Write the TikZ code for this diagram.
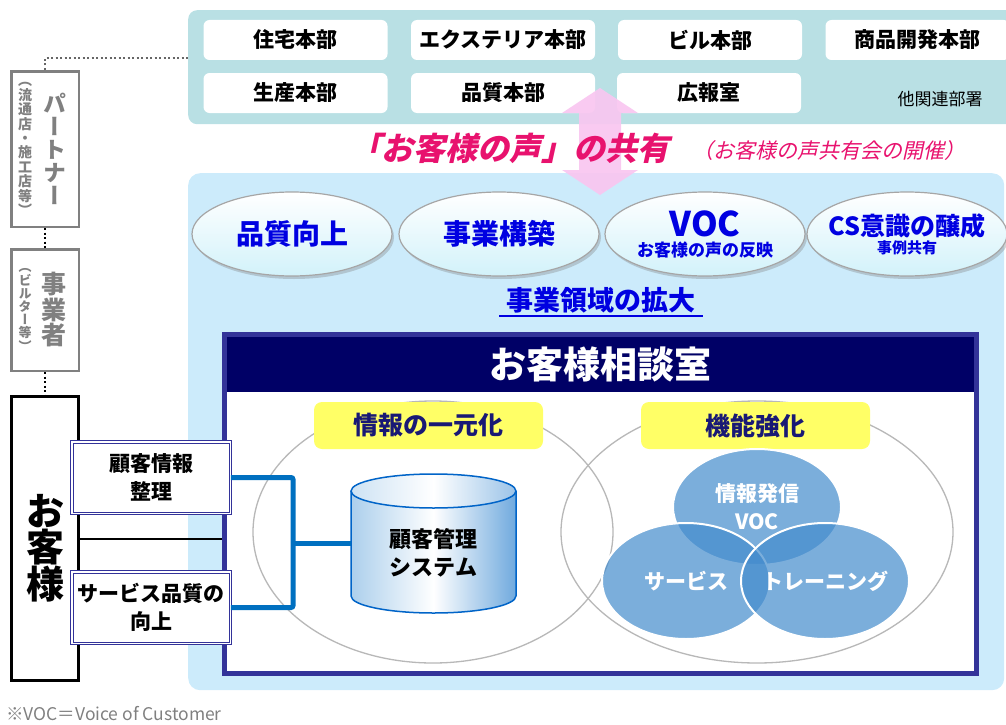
\documentclass[tikz,border=0pt]{standalone}
\usepackage{fontspec}
\usepackage{graphicx}
\setmainfont{Noto Sans CJK JP}
\newfontfamily\tatefont[RawFeature=+vert]{Noto Sans CJK JP}
\newfontfamily\shatai[FakeSlant=0.22]{Noto Sans CJK JP}
\usetikzlibrary{shapes.geometric,shadows}
\definecolor{honshairo}{RGB}{185,224,228}
\definecolor{mizuiro}{RGB}{204,235,251}
\definecolor{usumizu}{RGB}{210,242,250}
\definecolor{momo}{RGB}{249,198,240}
\definecolor{koe}{RGB}{232,18,110}
\definecolor{ao}{RGB}{0,0,225}
\definecolor{kon}{RGB}{0,0,102}
\definecolor{waku}{RGB}{51,51,153}
\definecolor{kiiro}{RGB}{255,255,102}
\definecolor{senao}{RGB}{0,112,192}
\definecolor{venniro}{RGB}{68,140,205}
\definecolor{cylhidari}{RGB}{172,207,236}
\definecolor{cylmigi}{RGB}{112,170,222}
\definecolor{cylsen}{RGB}{0,100,200}
\newcommand{\fs}[2]{\fontsize{#1}{#2}\selectfont}

\begin{document}
\begin{tikzpicture}[x=1pt, y=-1pt,
  every node/.style={inner sep=0pt, font=\bfseries},
  honbu/.style={fill=white, rounded corners=6pt, minimum width=184pt, minimum height=40pt, font=\fs{21}{24}\bfseries},
  oval/.style={ellipse, draw=black!35, line width=1.2pt, top color=white, bottom color=usumizu,
    minimum width=200pt, minimum height=84pt, text=ao, align=center,
    drop shadow={opacity=0.35, shadow xshift=2pt, shadow yshift=-3pt}},
  sotowaku/.style={draw=black!50, line width=2.5pt, fill=white, minimum width=67.5pt, text=black!50},
  fuda/.style={fill=kiiro, rounded corners=8pt, minimum width=229pt, minimum height=47pt, text=kon!90, font=\fs{25}{28}\bfseries},
  nijuu/.style={fill=white, draw=waku, line width=1pt, double=white, double distance=1.5pt,
    minimum width=158.5pt, minimum height=71.5pt, align=center, font=\fs{21}{28}\bfseries},
  venn/.style={ellipse, fill=venniro, fill opacity=0.7, text opacity=1, draw=white, line width=2pt,
    minimum width=168pt, minimum height=116pt, inner xsep=-10pt, text=white, align=center, font=\fs{21}{28}\bfseries},
  aosen/.style={senao, line width=5pt, rounded corners=2pt},
  tensen/.style={line width=2pt, dash pattern=on 2pt off 2.5pt}
]
\useasboundingbox (0,0) rectangle (1006,725);

\node[fill=honshairo, rounded corners=9pt, minimum width=830pt, minimum height=114pt, anchor=north west] (honsha) at (188,10) {};
\node[honbu] (jutaku) at (295.5,40) {住宅本部};
\node[honbu] (exterior) at (503,40) {エクステリア本部};
\node[honbu] (biru) at (710,40) {ビル本部};
\node[honbu] (shohin) at (917.5,40) {商品開発本部};
\node[honbu] (seisan) at (295.5,93) {生産本部};
\node[honbu] (hinshitsu) at (503,93) {品質本部};
\node[honbu] (koho) at (709,93) {広報室};
\node[font=\fs{17}{20}] (tabusho) at (940,99) {他関連部署};

\node[fill=mizuiro, rounded corners=12pt, minimum width=816pt, minimum height=517pt, anchor=north west] (jigyo) at (188,173) {};

\fill[momo, opacity=0.92] (600,88) -- (638,113) -- (621,113) -- (621,170) -- (638,170) -- (600,195)
  -- (562,170) -- (579,170) -- (579,113) -- (562,113) -- cycle;
\node[text=koe, font=\shatai\fs{32}{34}\bfseries] (kyoyu) at (509,148) {「お客様の声」の共有};
\node[text=koe, font=\shatai\fs{21}{24}] (kaisai) at (829,151) {（お客様の声共有会の開催）};

\node[oval, font=\fs{28}{32}\bfseries] (kojo) at (292,234) {品質向上};
\node[oval, font=\fs{28}{32}\bfseries] (kochiku) at (499,234) {事業構築};
\node[oval, font=\fs{17}{20}\bfseries] (voc) at (705,234) {{\fs{34}{34}VOC}\\{お客様の声の反映}};
\node[oval, inner xsep=-15pt, font=\fs{15}{18}\bfseries] (cs) at (907,234) {{\fs{25}{28}CS意識の醸成}\\{事例共有}};

\node[text=ao, font=\fs{27}{30}\bfseries, inner xsep=7pt, inner ysep=3pt] (kakudai) at (601,300) {事業領域の拡大};
\draw[ao, line width=1.2pt] (kakudai.south west) -- (kakudai.south east);

\node[draw=waku, line width=5pt, fill=white, minimum width=752pt, minimum height=339pt] (soudan) at (600.5,504) {};
\node[fill=kon, minimum width=747pt, minimum height=55pt, anchor=north, text=white, font=\fs{37}{40}\bfseries] (soudanshitsu) at (600.5,337) {お客様相談室};

\node[ellipse, draw=black!28, line width=1.3pt, minimum width=360pt, minimum height=262pt] (ichigenka) at (433,532) {};
\node[ellipse, draw=black!28, line width=1.3pt, minimum width=392pt, minimum height=262pt] (kyoka) at (757,532) {};
\node[fuda] (ichigen) at (428.5,425.5) {情報の一元化};
\node[fuda] (kino) at (755.5,425.5) {機能強化};

\shade[left color=cylhidari, right color=cylmigi, middle color=white] (351,491) -- (351,596)
  arc[start angle=180, end angle=0, x radius=82.5, y radius=17] -- (516,491) -- cycle;
\draw[cylsen, line width=1.5pt] (351,491) -- (351,596)
  arc[start angle=180, end angle=0, x radius=82.5, y radius=17] -- (516,491);
\draw[cylsen, line width=1.5pt, left color=cylhidari!60, right color=cylmigi!70, middle color=white] (433.5,491) ellipse[x radius=82.5, y radius=17];
\node[font=\fs{22}{28}\bfseries, align=center] (kanri) at (433.5,553) {顧客管理\\システム};
\coordinate (db) at (351,543);

\node[venn] (hasshin) at (757,507) {情報発信\\VOC};
\node[venn] (service) at (686,581) {サービス};
\node[venn] (training) at (825,581) {トレーニング};

\node[sotowaku, minimum height=155.5pt] (partner) at (45,149)
  {\parbox[c]{16pt}{\centering\tatefont\fs{14}{14.4}（\\流\\通\\店\\・\\施\\工\\店\\等\\）}\hspace{9pt}\parbox[c]{25pt}{\centering\tatefont\fs{23}{23}パ\\ー\\ト\\ナ\\ー}\hspace*{6pt}};
\node[sotowaku, minimum height=121.5pt] (jigyosha) at (45,310)
  {\parbox[c]{16pt}{\centering\tatefont\fs{13}{13.2}（\\ビ\\ル\\タ\\ー\\等\\）}\hspace{7pt}\parbox[c]{27pt}{\centering\tatefont\fs{25}{25.5}事\\業\\者}\hspace*{6pt}};
\node[draw=black, line width=3pt, fill=white, minimum width=67pt, minimum height=284pt] (okyaku) at (45,538.5) {};
\node[font=\fs{38}{36}\bfseries, align=center] (okyakumei) at (45,548) {お\\客\\様};

\coordinate (kado) at (45,58);
\draw[tensen, black!60] (partner.north) -- (kado) -- (kado -| honsha.west);
\draw[tensen] (partner.south) -- (jigyosha.north);
\draw[tensen] (jigyosha.south) -- (okyaku.north);

\draw[line width=2pt] (okyaku.east) -- (okyaku.east -| soudan.west);
\node[nijuu] (seiri) at (151,477.5) {顧客情報\\整理};
\node[nijuu] (hinshitsukojo) at (151,607.5) {サービス品質の\\向上};
\coordinate (hub) at (293,543);
\draw[aosen] (seiri.east) -| (hub) |- (hinshitsukojo.east);
\draw[aosen] (hub) -- (db);

\node[anchor=west, font=\fs{17.5}{20}, text=black!50] (chu) at (6,714) {※VOC＝Voice of Customer};
\end{tikzpicture}
\end{document}
